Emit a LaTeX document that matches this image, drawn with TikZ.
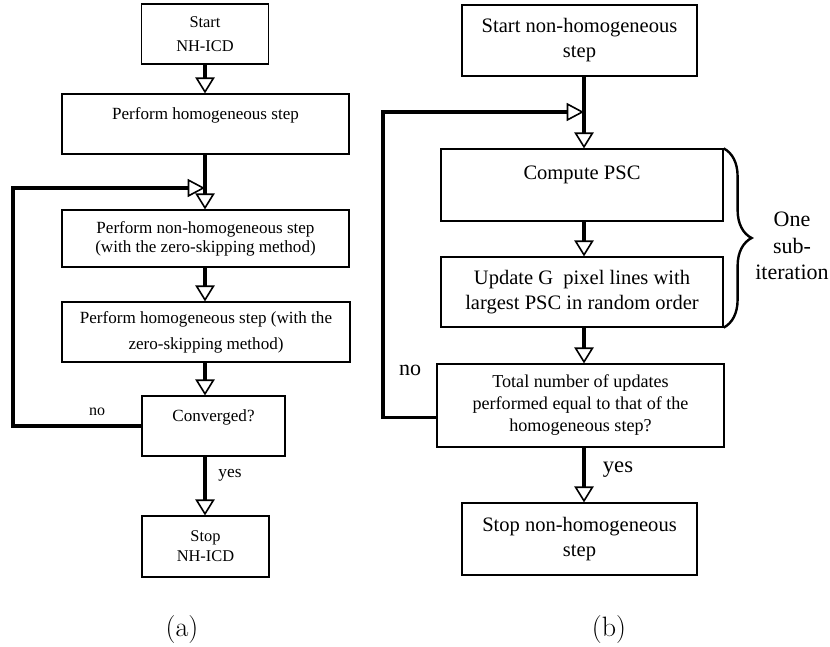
\documentclass[tikz,border=0pt]{standalone}
\usepackage{fontspec}
\newfontfamily\tnr{Liberation Serif}
\usetikzlibrary{arrows.meta,decorations.pathreplacing}
\begin{document}
\begin{tikzpicture}[x=0.75pt,y=-0.75pt,
  box/.style={draw,line width=0.9pt,align=center,inner sep=0pt},
  lf/.style={font=\tnr\fontsize{12.8}{15.5}\selectfont},
  rf/.style={font=\tnr\fontsize{15.4}{18.7}\selectfont},
  arr/.style={line width=2.4pt,-{Triangle[open,length=12pt,width=14.5pt,line width=1.2pt]}},
  sidearr/.style={line width=2.4pt,-{Triangle[open,length=13pt,width=13.5pt,line width=1.2pt]}},
  lbl/.style={inner sep=0pt}]
\useasboundingbox (0,0) rectangle (830,646);
% ---------------- (a)
\coordinate (ax) at (205,0);
\node[box,lf,font=\tnr\fontsize{12.3}{18}\selectfont,minimum width=95.25pt,minimum height=45pt] (sa) at (205,34) {Start\\NH-ICD};
\node[box,lf,minimum width=215.25pt,minimum height=45pt] (ph) at (205.5,124) {Perform homogeneous step\\\mbox{}};
\node[box,lf,font=\tnr\fontsize{12.8}{14.3}\selectfont,minimum width=215.25pt,minimum height=42.75pt] (nh) at (205.5,238.5) {Perform non-homogeneous step\\(with the zero-skipping method)};
\node[box,lf,font=\tnr\fontsize{12.8}{19.5}\selectfont,minimum width=216pt,minimum height=45pt] (hz) at (206,332) {Perform homogeneous step (with the\\zero-skipping method)};
\node[box,lf,minimum width=107.25pt,minimum height=45pt] (cv) at (213.5,426) {Converged?\\\mbox{}};
\node[box,lf,font=\tnr\fontsize{12.3}{15}\selectfont,minimum width=95.25pt,minimum height=45.75pt] (sp) at (205.5,546.5) {Stop\\NH-ICD};
\coordinate (jl) at (205,188);
\coordinate (lc) at (13,188);
\draw[arr] (sa.south -| ax) -- (ph.north -| ax);
\draw[arr] (ph.south -| ax) -- (nh.north -| ax);
\draw[arr] (nh.south -| ax) -- (hz.north -| ax);
\draw[arr] (hz.south -| ax) -- (cv.north -| ax);
\draw[arr] (cv.south -| ax) -- (sp.north -| ax);
\draw[sidearr] (cv.west) -| (lc) -- (jl);
\node[lbl,font=\tnr\fontsize{12}{14}\selectfont] (no1) at (97,412) {no};
\node[lbl,font=\tnr\fontsize{13}{15}\selectfont] (yes1) at (230,475) {yes};
\node[lbl,font=\fontsize{21}{24}\selectfont] (capa) at (182,630) {(a)};
% ---------------- (b)
\coordinate (bx) at (584,0);
\node[box,rf,minimum width=176.25pt,minimum height=53.25pt] (rs) at (579.5,40.5) {Start non-homogeneous\\step};
\node[box,rf,minimum width=211.5pt,minimum height=54pt] (cp) at (582,185) {Compute PSC\\\mbox{}};
\node[box,rf,minimum width=211.5pt,minimum height=52.5pt] (up) at (582,292) {Update G\enspace pixel lines with\\largest PSC in random order};
\node[box,font=\tnr\fontsize{13.6}{16.5}\selectfont,minimum width=215.25pt,minimum height=62.25pt] (tt) at (580.5,405.5) {Total number of updates\\performed equal to that of the\\homogeneous step?};
\node[box,rf,minimum width=176.25pt,minimum height=54pt] (rp) at (579.5,539) {Stop non-homogeneous\\step};
\coordinate (jr) at (584,112);
\coordinate (rc) at (383,112);
\draw[arr] (rs.south -| bx) -- (cp.north -| bx);
\draw[arr] (cp.south -| bx) -- (up.north -| bx);
\draw[arr] (up.south -| bx) -- (tt.north -| bx);
\draw[arr] (tt.south -| bx) -- (rp.north -| bx);
\draw[sidearr] ([yshift=-9pt]tt.west) -| (rc) -- (jr);
\draw[line width=1.8pt,decorate,decoration={brace,amplitude=21pt}] (cp.north east) -- (up.south east);
\node[lbl,align=center,font=\tnr\fontsize{16.5}{20}\selectfont] (sub) at (792,246) {One\\sub-\\iteration};
\node[lbl,font=\tnr\fontsize{16.5}{19}\selectfont] (no2) at (410,370) {no};
\node[lbl,font=\tnr\fontsize{17}{19}\selectfont] (yes2) at (618,470) {yes};
\node[lbl,font=\fontsize{21}{24}\selectfont] (capb) at (609,630) {(b)};
\end{tikzpicture}
\end{document}
